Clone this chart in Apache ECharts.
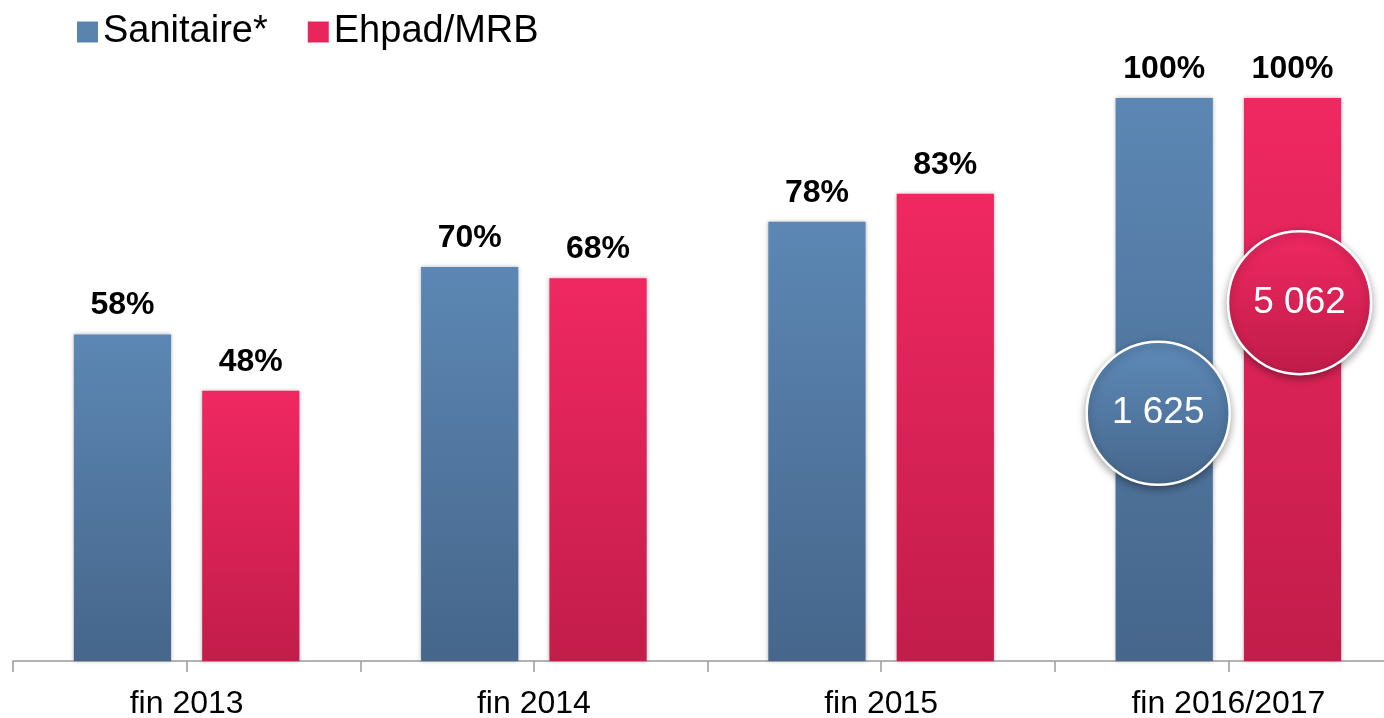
<!DOCTYPE html>
<html><head><meta charset="utf-8">
<script src="https://cdn.jsdelivr.net/npm/echarts@6/dist/echarts.min.js"></script>
<style>html,body{margin:0;padding:0;background:#fff}#c{width:1384px;height:718px}</style>
</head><body><div id="c"></div>
<script>
const categories = ['fin 2013', 'fin 2014', 'fin 2015', 'fin 2016/2017'];
const sanitaire = [58, 70, 78, 100];
const ehpad = [48, 68, 83, 100];
const seriesNames = ['Sanitaire*', 'Ehpad/MRB'];
const bubbleLabels = ['1 625', '5 062'];
const bubbleLevels = [44, 64];

const blueGrad = new echarts.graphic.LinearGradient(0,0,0,1,[{offset:0,color:'#5c87b4'},{offset:1,color:'#46668b'}]);
const redGrad = new echarts.graphic.LinearGradient(0,0,0,1,[{offset:0,color:'#f02862'},{offset:1,color:'#c21d4a'}]);
const blueCirc = new echarts.graphic.LinearGradient(0,0,0,1,[{offset:0,color:'#5e8ab8'},{offset:1,color:'#46678c'}]);
const redCirc = new echarts.graphic.LinearGradient(0,0,0,1,[{offset:0,color:'#f02862'},{offset:1,color:'#bf1c49'}]);

const font = '"Liberation Sans", Arial, sans-serif';
const chart = echarts.init(document.getElementById('c'));

function bubble(idx, color, offset) {
  return {
    symbol: 'circle', symbolSize: 143, symbolOffset: offset,
    itemStyle: {color: color, borderColor: '#fff', borderWidth: 2.5, shadowBlur: 8, shadowColor: 'rgba(0,0,0,0.35)', shadowOffsetY: 3},
    label: {show: true, position: 'inside', color: '#fff', fontSize: 37, fontFamily: font, formatter: bubbleLabels[idx]},
    data: [{coord: [categories[3], bubbleLevels[idx]]}]
  };
}

const labelCfg = {show: true, position: 'top', distance: 13, formatter: '{c}%', color: '#000', fontSize: 32, fontWeight: 'bold', fontFamily: font};

chart.setOption({
  animation: false,
  textStyle: {fontFamily: font},
  legend: {
    left: 72, top: 8, itemWidth: 21, itemHeight: 21, itemGap: 40,
    icon: 'rect',
    textStyle: {fontSize: 38, color: '#000', fontFamily: font, padding: [0,0,0,0]},
    data: [{name: seriesNames[0], itemStyle: {color: '#5a83ae'}}, {name: seriesNames[1], itemStyle: {color: '#e8265d'}}]
  },
  grid: {left: 13, width: 1389, top: 98, bottom: 57, containLabel: false, outerBoundsMode: 'none'},
  xAxis: [{
    type: 'category', data: categories,
    axisLine: {lineStyle: {color: '#9a9a9a', width: 1.5}},
    axisTick: {show: false},
    axisLabel: {color: '#000', fontSize: 32, fontFamily: font, margin: 27}
  }, {
    type: 'category', data: ['a','b','c','d','e','f','g','h'], position: 'bottom',
    axisLine: {show: false},
    axisTick: {show: true, length: 11, lineStyle: {color: '#9a9a9a', width: 1.5}},
    axisLabel: {show: false}
  }],
  yAxis: {type: 'value', min: 0, max: 100, show: false, splitLine: {show: false}},
  series: [{
    name: seriesNames[0], type: 'bar', data: sanitaire, barWidth: '28%', barGap: '32%',
    itemStyle: {color: blueGrad, shadowBlur: 4, shadowColor: 'rgba(0,0,0,0.3)'},
    label: labelCfg,
    markPoint: bubble(0, blueCirc, [-6, 0]), z: 2
  }, {
    name: seriesNames[1], type: 'bar', data: ehpad, barWidth: '28%', barGap: '32%',
    itemStyle: {color: redGrad, shadowBlur: 4, shadowColor: 'rgba(0,0,0,0.3)'},
    label: labelCfg,
    markPoint: bubble(1, redCirc, [7, 2]), z: 2
  }]
});
</script></body></html>
